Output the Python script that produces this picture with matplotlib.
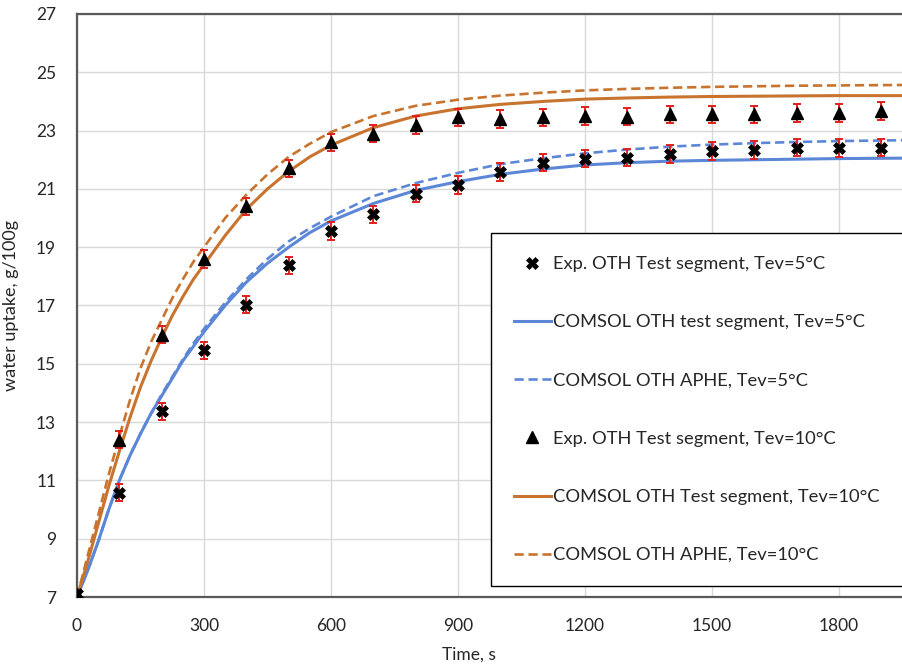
import numpy as np
import matplotlib
matplotlib.use('Agg')
import matplotlib.pyplot as plt

# experimental points
t_exp = [0, 100, 200, 300, 400, 500, 600, 700, 800, 900, 1000,
         1100, 1200, 1300, 1400, 1500, 1600, 1700, 1800, 1900]
exp_5 = [7.1, 10.58, 13.37, 15.46, 17.03, 18.38, 19.55, 20.13, 20.84, 21.13, 21.58,
         21.9, 22.04, 22.07, 22.19, 22.3, 22.34, 22.42, 22.4, 22.42]
exp_10 = [7.1, 12.4, 16.0, 18.6, 20.4, 21.7, 22.6, 22.9, 23.2, 23.45, 23.4,
          23.45, 23.5, 23.48, 23.56, 23.56, 23.56, 23.6, 23.6, 23.68]
err_5 = [0.1, 0.3, 0.3, 0.3, 0.3, 0.3, 0.3, 0.3, 0.3, 0.3, 0.3,
         0.3, 0.3, 0.3, 0.3, 0.3, 0.3, 0.3, 0.3, 0.3]
err_10 = [0.1, 0.3, 0.3, 0.3, 0.3, 0.3, 0.3, 0.3, 0.3, 0.3, 0.3,
          0.3, 0.3, 0.3, 0.3, 0.3, 0.3, 0.3, 0.3, 0.3]

# COMSOL curves
t_sim = [0, 25, 50, 75, 100, 125, 150, 175, 200, 225, 250, 275, 300, 350, 400, 450, 500,
         550, 600, 700, 800, 900, 1000, 1100, 1200, 1300, 1400, 1500, 1600, 1700, 1800,
         1900, 2000]
seg_5 = [7.0, 7.9, 8.9, 10.0, 11.0, 11.85, 12.6, 13.3, 13.9, 14.5, 15.1, 15.6, 16.1,
         17.0, 17.8, 18.45, 19.0, 19.5, 19.9, 20.5, 20.95, 21.25, 21.5, 21.68, 21.82,
         21.9, 21.95, 21.98, 22.0, 22.02, 22.04, 22.05, 22.06]
aphe_5 = [7.0, 7.9, 8.9, 10.0, 11.0, 11.85, 12.6, 13.3, 13.95, 14.55, 15.15, 15.7, 16.2,
          17.1, 17.9, 18.6, 19.2, 19.65, 20.05, 20.75, 21.2, 21.55, 21.85, 22.05, 22.22,
          22.35, 22.45, 22.52, 22.57, 22.61, 22.64, 22.66, 22.68]
seg_10 = [7.0, 8.2, 9.5, 10.8, 12.0, 13.15, 14.2, 15.1, 15.9, 16.65, 17.3, 17.9, 18.4,
          19.4, 20.3, 21.0, 21.6, 22.1, 22.5, 23.1, 23.5, 23.75, 23.9, 24.0, 24.08,
          24.12, 24.15, 24.17, 24.18, 24.19, 24.2, 24.2, 24.2]
aphe_10 = [7.0, 8.4, 9.8, 11.2, 12.5, 13.75, 14.85, 15.75, 16.5, 17.25, 17.9, 18.5, 19.0,
           20.0, 20.8, 21.5, 22.1, 22.55, 22.95, 23.5, 23.85, 24.06, 24.2, 24.3, 24.38,
           24.43, 24.47, 24.5, 24.52, 24.54, 24.55, 24.56, 24.57]

labels = ['Exp. OTH Test segment, Tev=5°C',
          'COMSOL OTH test segment, Tev=5°C',
          'COMSOL OTH APHE, Tev=5°C',
          'Exp. OTH Test segment, Tev=10°C',
          'COMSOL OTH Test segment, Tev=10°C',
          'COMSOL OTH APHE, Tev=10°C']

plt.rcParams['font.family'] = ['Lato', 'DejaVu Sans']
BLUE = '#5B87D6'
ORANGE = '#C8732E'
TXT = '#262626'

fig = plt.figure(figsize=(9.03, 6.65), dpi=100)
ax = fig.add_axes([77/903, 68/665, 826/903, 583/665])

h_bs, = ax.plot(t_sim, seg_5, color=BLUE, lw=2.2, label=labels[1])
h_bd, = ax.plot(t_sim, aphe_5, color=BLUE, lw=1.9, dashes=(3.5, 1.8), label=labels[2])
h_os, = ax.plot(t_sim, seg_10, color=ORANGE, lw=2.2, label=labels[4])
h_od, = ax.plot(t_sim, aphe_10, color=ORANGE, lw=1.9, dashes=(3.5, 1.8), label=labels[5])

ax.errorbar(t_exp, exp_5, yerr=err_5, fmt='none', ecolor='#E0201B',
            elinewidth=1.4, capsize=3, capthick=1.4, zorder=4)
ax.errorbar(t_exp, exp_10, yerr=err_10, fmt='none', ecolor='#E0201B',
            elinewidth=1.4, capsize=3, capthick=1.4, zorder=4)
h_e5, = ax.plot(t_exp, exp_5, 'X', color='black', ms=8, mec='black', mew=0.5,
                ls='none', zorder=5, label=labels[0])
h_e10, = ax.plot(t_exp, exp_10, '^', color='black', ms=8, ls='none', zorder=5,
                 label=labels[3])

ax.set_xlim(0, 1951)
ax.set_ylim(7, 27)
ax.set_xticks([0, 300, 600, 900, 1200, 1500, 1800])
ax.set_yticks(np.arange(7, 28, 2))
ax.grid(True, color='#D9D9D9', lw=1)
ax.set_axisbelow(True)
ax.tick_params(length=0, pad=15, labelsize=12.5, colors=TXT)
for s in ['left', 'bottom', 'top']:
    ax.spines[s].set_color('#595959')
    ax.spines[s].set_linewidth(1.6)
ax.spines['right'].set_visible(False)

ax.set_xlabel('Time, s', fontsize=12.5, color=TXT)
ax.xaxis.set_label_coords((469 - 77) / 826, -0.085)
ax.set_ylabel('water uptake, g/100g', fontsize=13, color=TXT)
ax.yaxis.set_label_coords(-0.07, 0.5)

leg = ax.legend([h_e5, h_bs, h_bd, h_e10, h_os, h_od], labels,
                loc='lower left', bbox_to_anchor=((491 - 77) / 826, 11 / 583),
                fontsize=13.2, frameon=True, fancybox=False, framealpha=1,
                edgecolor='black', borderpad=1.25, labelspacing=2.3,
                handlelength=2.0, handletextpad=0.15, borderaxespad=0)
leg.get_frame().set_linewidth(1.0)
for t in leg.get_texts():
    t.set_color(TXT)

plt.savefig('out.png', dpi=100)
plt.close()
